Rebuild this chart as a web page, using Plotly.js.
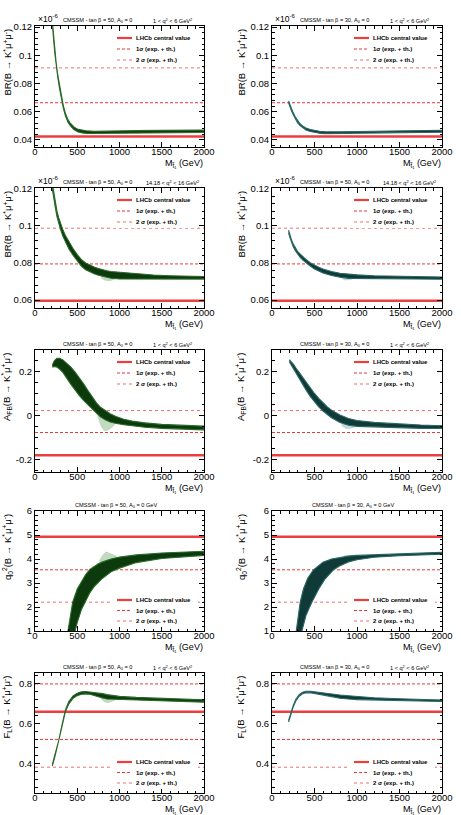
<!DOCTYPE html>
<html><head><meta charset="utf-8">
<script src="https://cdn.plot.ly/plotly-3.0.1.min.js"></script>
<style>html,body{margin:0;padding:0;background:#fff}#chart{width:461px;height:815px}</style>
</head><body><div id="chart"></div>
<script>
// ---------------- DATA ----------------
// x-axis ticks (stop mass in GeV)
const xTickVals = [0, 500, 1000, 1500, 2000];

// Row 1: BR, 1<q2<6, tanb=50
const m_brA50 = [205, 220, 235, 250, 270, 290, 310, 335, 360, 390, 420, 460, 510, 560, 620, 700, 800, 1000, 1200, 1500, 1800, 2000];
const hi_brA50 = [0.1244, 0.1129, 0.1029, 0.0949, 0.0859, 0.0784, 0.0714, 0.0644, 0.0589, 0.0544, 0.0517, 0.0492, 0.0475, 0.0468, 0.0464, 0.0462, 0.0462, 0.0464, 0.0466, 0.0468, 0.0470, 0.0471];
const lo_brA50 = [0.1226, 0.1111, 0.1011, 0.0931, 0.0841, 0.0766, 0.0696, 0.0626, 0.0571, 0.0526, 0.0499, 0.0474, 0.0457, 0.0450, 0.0446, 0.0444, 0.0444, 0.0446, 0.0448, 0.0450, 0.0452, 0.0453];
// Row 1: BR, 1<q2<6, tanb=30
const m_brA30 = [195, 210, 230, 250, 275, 300, 330, 360, 400, 450, 500, 560, 620, 700, 800, 1000, 1200, 1500, 1800, 2000];
const hi_brA30 = [0.0677, 0.0652, 0.0619, 0.0592, 0.0562, 0.0537, 0.0515, 0.0499, 0.0485, 0.0474, 0.0467, 0.0462, 0.0459, 0.0458, 0.0458, 0.0460, 0.0462, 0.0465, 0.0467, 0.0469];
const lo_brA30 = [0.0663, 0.0638, 0.0605, 0.0578, 0.0548, 0.0523, 0.0501, 0.0485, 0.0471, 0.0460, 0.0453, 0.0448, 0.0445, 0.0444, 0.0444, 0.0446, 0.0448, 0.0451, 0.0453, 0.0455];
const brA_ref = {c: 0.0424, s1: [0.0664], s2: [0.0911]};
const brA_tickVals = [0.04, 0.06, 0.08, 0.1, 0.12];
const brA_tickText = ['0.04', '0.06', '0.08', '0.1', '0.12'];

// Row 2: BR, 14.18<q2<16, tanb=50
const m_brB50 = [205, 220, 240, 260, 280, 300, 330, 360, 400, 450, 500, 550, 600, 650, 700, 750, 800, 850, 900, 1000, 1100, 1200, 1400, 1600, 1800, 2000];
const hi_brB50 = [0.1230, 0.1185, 0.1130, 0.1080, 0.1045, 0.1015, 0.0980, 0.0948, 0.0913, 0.0878, 0.0846, 0.0818, 0.0800, 0.0788, 0.0778, 0.0770, 0.0763, 0.0758, 0.0754, 0.0750, 0.0744, 0.0740, 0.0735, 0.0731, 0.0729, 0.0727];
const lo_brB50 = [0.1200, 0.1155, 0.1100, 0.1050, 0.1015, 0.0985, 0.0944, 0.0912, 0.0877, 0.0842, 0.0810, 0.0782, 0.0764, 0.0752, 0.0742, 0.0734, 0.0727, 0.0722, 0.0718, 0.0714, 0.0714, 0.0714, 0.0713, 0.0713, 0.0713, 0.0713];
const scm_brB50 = [780, 820, 860, 900, 940];
const schi_brB50 = [0.0729, 0.0724, 0.0720, 0.0717, 0.0715];
const sclo_brB50 = [0.0722, 0.0708, 0.0704, 0.0706, 0.0711];
// Row 2: BR, 14.18<q2<16, tanb=30
const m_brB30 = [195, 210, 230, 250, 275, 300, 330, 360, 400, 450, 500, 550, 600, 700, 800, 900, 1000, 1200, 1500, 1800, 2000];
const hi_brB30 = [0.0977, 0.0952, 0.0924, 0.0902, 0.0880, 0.0863, 0.0849, 0.0835, 0.0819, 0.0802, 0.0789, 0.0777, 0.0768, 0.0754, 0.0745, 0.0739, 0.0736, 0.0731, 0.0727, 0.0725, 0.0724];
const lo_brB30 = [0.0963, 0.0938, 0.0910, 0.0888, 0.0866, 0.0849, 0.0831, 0.0817, 0.0801, 0.0784, 0.0767, 0.0755, 0.0746, 0.0732, 0.0723, 0.0717, 0.0714, 0.0713, 0.0713, 0.0713, 0.0712];
const scm_brB30 = [820, 860, 900, 940];
const schi_brB30 = [0.0723, 0.0720, 0.0717, 0.0716];
const sclo_brB30 = [0.0716, 0.0708, 0.0709, 0.0712];
const brB_ref = {c: 0.0596, s1: [0.0795], s2: [0.0988]};
const brB_tickVals = [0.06, 0.08, 0.1, 0.12];
const brB_tickText = ['0.06', '0.08', '0.1', '0.12'];

// Row 3: AFB, tanb=50
const m_afb50 = [205, 230, 260, 290, 330, 375, 425, 475, 525, 575, 625, 675, 725, 775, 830, 890, 950, 1050, 1150, 1300, 1500, 1750, 2000];
const hi_afb50 = [0.232, 0.252, 0.262, 0.262, 0.255, 0.240, 0.222, 0.199, 0.174, 0.146, 0.116, 0.085, 0.060, 0.039, 0.024, 0.010, -0.002, -0.016, -0.024, -0.032, -0.039, -0.044, -0.047];
const lo_afb50 = [0.222, 0.225, 0.222, 0.213, 0.198, 0.172, 0.143, 0.116, 0.092, 0.070, 0.050, 0.031, 0.013, -0.005, -0.018, -0.028, -0.034, -0.041, -0.046, -0.052, -0.057, -0.061, -0.064];
const scm_afb50 = [740, 780, 820, 860, 900, 940];
const schi_afb50 = [0.010, -0.007, -0.016, -0.024, -0.029, -0.033];
const sclo_afb50 = [0.000, -0.045, -0.068, -0.066, -0.055, -0.042];
// Row 3: AFB, tanb=30
const m_afb30 = [205, 250, 300, 350, 400, 450, 500, 550, 600, 650, 700, 800, 900, 1000, 1200, 1500, 1750, 2000];
const hi_afb30 = [0.256, 0.236, 0.208, 0.180, 0.152, 0.126, 0.102, 0.080, 0.060, 0.041, 0.026, 0.004, -0.012, -0.021, -0.030, -0.038, -0.042, -0.045];
const lo_afb30 = [0.246, 0.218, 0.183, 0.150, 0.118, 0.088, 0.062, 0.041, 0.022, 0.005, -0.009, -0.030, -0.043, -0.048, -0.052, -0.055, -0.057, -0.058];
const scm_afb30 = [820, 870, 920, 970];
const schi_afb30 = [-0.034, -0.039, -0.044, -0.046];
const sclo_afb30 = [-0.045, -0.058, -0.058, -0.052];
const afb_ref = {c: -0.18, s1: [-0.076], s2: [0.024]};
const afb_tickVals = [-0.2, 0, 0.2];
const afb_tickText = ['-0.2', '0', '0.2'];

// Row 4: q0^2, tanb=50 (upper-left edge and lower-right edge of the band)
const mu_q50 = [390, 420, 446, 500, 550, 600, 650, 700, 750, 800, 900, 1000, 1200, 1500, 1750, 2000];
const up_q50 = [1.0, 1.75, 2.2, 2.75, 3.05, 3.35, 3.57, 3.70, 3.80, 3.88, 4.00, 4.08, 4.17, 4.25, 4.29, 4.32];
const ml_q50 = [475, 500, 550, 600, 650, 700, 800, 900, 1000, 1200, 1500, 1750, 2000];
const dn_q50 = [1.0, 1.35, 1.9, 2.25, 2.6, 2.85, 3.2, 3.47, 3.62, 3.85, 4.02, 4.10, 4.15];
const scm_q50 = [760, 800, 840, 880, 920, 960];
const schi_q50 = [3.92, 4.15, 4.30, 4.25, 4.18, 4.12];
const sclo_q50 = [3.84, 3.88, 3.93, 3.97, 4.01, 4.05];
// Row 4: q0^2, tanb=30
const mu_q30 = [285, 300, 332, 370, 420, 488, 550, 600, 700, 800, 900, 1000, 1250, 1500, 1750, 2000];
const up_q30 = [1.0, 1.45, 2.2, 2.75, 3.2, 3.55, 3.75, 3.87, 4.00, 4.07, 4.12, 4.15, 4.19, 4.22, 4.25, 4.28];
const ml_q30 = [352, 400, 469, 550, 620, 723, 800, 900, 1000, 1200, 1500, 1750, 2000];
const dn_q30 = [1.0, 1.65, 2.2, 2.75, 3.15, 3.55, 3.72, 3.88, 3.97, 4.07, 4.14, 4.18, 4.20];
const scm_q30 = [850, 900, 950, 1000];
const schi_q30 = [4.14, 4.17, 4.17, 4.17];
const sclo_q30 = [4.10, 4.12, 4.14, 4.15];
const q_ref = {c: 4.93, s1: [3.55], s2: [2.2]};
const q_tickVals = [1, 2, 3, 4, 5, 6];
const q_tickText = ['1', '2', '3', '4', '5', '6'];

// Row 5: FL, tanb=50
const m_fl50 = [205, 240, 280, 320, 360, 400, 450, 500, 550, 600, 650, 700, 750, 800, 850, 900, 1000, 1200, 1500, 1750, 2000];
const hi_fl50 = [0.394, 0.449, 0.514, 0.594, 0.669, 0.711, 0.739, 0.753, 0.760, 0.762, 0.760, 0.757, 0.754, 0.751, 0.746, 0.742, 0.737, 0.732, 0.727, 0.723, 0.720];
const lo_fl50 = [0.386, 0.441, 0.506, 0.586, 0.661, 0.699, 0.727, 0.741, 0.748, 0.750, 0.748, 0.743, 0.736, 0.729, 0.724, 0.722, 0.719, 0.716, 0.713, 0.711, 0.708];
const scm_fl50 = [780, 820, 860, 900, 940];
const schi_fl50 = [0.733, 0.728, 0.724, 0.722, 0.721];
const sclo_fl50 = [0.725, 0.710, 0.705, 0.709, 0.716];
// Row 5: FL, tanb=30
const m_fl30 = [195, 220, 250, 280, 320, 360, 400, 450, 500, 600, 700, 800, 900, 1000, 1200, 1500, 1750, 2000];
const hi_fl30 = [0.616, 0.652, 0.692, 0.722, 0.746, 0.758, 0.763, 0.763, 0.760, 0.754, 0.748, 0.744, 0.740, 0.737, 0.730, 0.725, 0.721, 0.719];
const lo_fl30 = [0.608, 0.644, 0.684, 0.714, 0.738, 0.750, 0.755, 0.755, 0.752, 0.744, 0.736, 0.728, 0.724, 0.721, 0.718, 0.715, 0.713, 0.711];
const fl_ref = {c: 0.66, s1: [0.52, 0.80], s2: [0.38]};
const fl_tickVals = [0.4, 0.6, 0.8];
const fl_tickText = ['0.4', '0.6', '0.8'];

// Texts
const T_BR = 'BR(B → K<sup>*</sup>μ<sup>+</sup>μ<sup>-</sup>)';
const T_AFB = 'A<sub>FB</sub>(B → K<sup>*</sup>μ<sup>+</sup>μ<sup>-</sup>)';
const T_Q0 = 'q<sub>0</sub><sup>2</sup>(B → K<sup>*</sup>μ<sup>+</sup>μ<sup>-</sup>)';
const T_FL = 'F<sub>L</sub>(B → K<sup>*</sup>μ<sup>+</sup>μ<sup>-</sup>)';
const T_X = 'M<sub>t̃₁</sub> (GeV)';
const Q_LOW = '1 < q<sup>2</sup> < 6 GeV<sup>2</sup>';
const Q_HIGH = '14.18 < q<sup>2</sup> < 16 GeV<sup>2</sup>';
const legTexts = ['LHCb central value', '1σ (exp. + th.)', '2 σ (exp. + th.)'];

// ---------------- LAYOUT / DRAW ----------------
const W = 461, H = 815;
const FONT = 'Liberation Sans, Arial, Helvetica, sans-serif';
const cols = [[35, 204], [272, 442]];
const rows = [[26, 147], [188, 308], [350, 472], [511, 631], [673, 793]];
const yRanges = [[0.035, 0.1208], [0.0557, 0.1205], [-0.256, 0.3], [1, 6], [0.25, 0.855]];
const yMinor = [0.004, 0.004, 0.05, 0.2, 0.04];
const bandCol = [{fill: '#0c3a0c', line: '#2a6a2a', sc: 'rgba(80,150,80,0.35)'},
                 {fill: '#0f3a37', line: '#2b6864', sc: 'rgba(80,150,145,0.35)'}];

const panels = [
  {upM: m_brA50, upV: hi_brA50, loM: m_brA50, loV: lo_brA50, sc: null, ref: brA_ref, tv: brA_tickVals, tt: brA_tickText, yt: T_BR, tb: '50', q: Q_LOW, exp: true, leg: 'top'},
  {upM: m_brA30, upV: hi_brA30, loM: m_brA30, loV: lo_brA30, sc: null, ref: brA_ref, tv: brA_tickVals, tt: brA_tickText, yt: T_BR, tb: '30', q: Q_LOW, exp: true, leg: 'top'},
  {upM: m_brB50, upV: hi_brB50, loM: m_brB50, loV: lo_brB50, sc: [scm_brB50, schi_brB50, sclo_brB50], ref: brB_ref, tv: brB_tickVals, tt: brB_tickText, yt: T_BR, tb: '50', q: Q_HIGH, exp: true, leg: 'top'},
  {upM: m_brB30, upV: hi_brB30, loM: m_brB30, loV: lo_brB30, sc: [scm_brB30, schi_brB30, sclo_brB30], ref: brB_ref, tv: brB_tickVals, tt: brB_tickText, yt: T_BR, tb: '50', q: Q_HIGH, exp: true, leg: 'top'},
  {upM: m_afb50, upV: hi_afb50, loM: m_afb50, loV: lo_afb50, sc: [scm_afb50, schi_afb50, sclo_afb50], ref: afb_ref, tv: afb_tickVals, tt: afb_tickText, yt: T_AFB, tb: '50', q: Q_LOW, exp: false, leg: 'top'},
  {upM: m_afb30, upV: hi_afb30, loM: m_afb30, loV: lo_afb30, sc: [scm_afb30, schi_afb30, sclo_afb30], ref: afb_ref, tv: afb_tickVals, tt: afb_tickText, yt: T_AFB, tb: '30', q: Q_LOW, exp: false, leg: 'top'},
  {upM: mu_q50, upV: up_q50, loM: ml_q50, loV: dn_q50, sc: [scm_q50, schi_q50, sclo_q50], ref: q_ref, tv: q_tickVals, tt: q_tickText, yt: T_Q0, tb: '50', q: null, exp: false, leg: 'bottom'},
  {upM: mu_q30, upV: up_q30, loM: ml_q30, loV: dn_q30, sc: [scm_q30, schi_q30, sclo_q30], ref: q_ref, tv: q_tickVals, tt: q_tickText, yt: T_Q0, tb: '30', q: null, exp: false, leg: 'bottom'},
  {upM: m_fl50, upV: hi_fl50, loM: m_fl50, loV: lo_fl50, sc: [scm_fl50, schi_fl50, sclo_fl50], ref: fl_ref, tv: fl_tickVals, tt: fl_tickText, yt: T_FL, tb: '50', q: Q_LOW, exp: false, leg: 'bottom'},
  {upM: m_fl30, upV: hi_fl30, loM: m_fl30, loV: lo_fl30, sc: null, ref: fl_ref, tv: fl_tickVals, tt: fl_tickText, yt: T_FL, tb: '30', q: Q_LOW, exp: false, leg: 'bottom'}
];

const RED = '#ea3f41', RED1 = '#e4393b', RED2 = '#ef6f73';
const px = v => v / W, py = v => 1 - v / H;
const traces = [], shapes = [], annotations = [];
const layout = {width: W, height: H, margin: {l: 0, r: 0, t: 0, b: 0}, paper_bgcolor: '#fff', plot_bgcolor: '#fff',
  showlegend: false, font: {family: FONT, color: '#000'}};

function hline(vals, xa, ya, color, width, dash) {
  vals.forEach(v => {
    traces.push({type: 'scatter', mode: 'lines', x: [0, 2000], y: [v, v], xaxis: xa, yaxis: ya, hoverinfo: 'skip',
      line: {color: color, width: width, dash: dash}});
  });
}

panels.forEach((p, i) => {
  const r = Math.floor(i / 2), c = i % 2, n = i + 1;
  const [L, R] = cols[c], [T, B] = rows[r];
  const xa = 'x' + n, ya = 'y' + n;
  const common = {showline: true, linecolor: '#000', linewidth: 1, mirror: 'ticks', ticks: 'inside', ticklen: 5,
    tickwidth: 1, tickcolor: '#000', showgrid: false, zeroline: false, fixedrange: true,
    tickfont: {family: FONT, size: 9.5, color: '#000'}};
  layout['xaxis' + n] = Object.assign({}, common, {domain: [px(L), px(R)], range: [0, 2000], anchor: ya,
    tickvals: xTickVals, ticktext: xTickVals.map(String), ticklabelstandoff: -4,
    minor: {ticks: 'inside', ticklen: 2.5, dtick: 100, tick0: 0, tickcolor: '#000', tickwidth: 1, showgrid: false}});
  layout['yaxis' + n] = Object.assign({}, common, {domain: [py(B), py(T)], range: yRanges[r], anchor: xa,
    tickvals: p.tv, ticktext: p.tt,
    minor: {ticks: 'inside', ticklen: 2.5, dtick: yMinor[r], tick0: 0, tickcolor: '#000', tickwidth: 1, showgrid: false}});

  // reference lines
  hline(p.ref.s2, xa, ya, RED2, 1, 'dot');
  hline(p.ref.s1, xa, ya, RED1, 1, '3px,2px');
  hline([p.ref.c], xa, ya, RED, 2.4, 'solid');

  // band
  const col = bandCol[c];
  if (p.sc) {
    traces.push({type: 'scatter', mode: 'lines', xaxis: xa, yaxis: ya, hoverinfo: 'skip',
      x: p.sc[0].concat(p.sc[0].slice().reverse()), y: p.sc[1].concat(p.sc[2].slice().reverse()),
      fill: 'toself', fillcolor: col.sc, line: {color: col.sc, width: 0.5}});
  }
  traces.push({type: 'scatter', mode: 'lines', xaxis: xa, yaxis: ya, hoverinfo: 'skip',
    x: p.upM.concat(p.loM.slice().reverse()), y: p.upV.concat(p.loV.slice().reverse()),
    fill: 'toself', fillcolor: col.fill, line: {color: col.line, width: 1.1}});

  // texts
  annotations.push({xref: 'paper', yref: 'paper', x: px(c ? 241 : 7), y: py(T + 1), xanchor: 'center', yanchor: 'top',
    textangle: -90, text: p.yt, showarrow: false, font: {family: FONT, size: 9.5}});
  annotations.push({xref: 'paper', yref: 'paper', x: px(R + 1), y: py(B + 16.5), xanchor: 'right', yanchor: 'middle',
    text: T_X, showarrow: false, font: {family: FONT, size: 9}});
  const head = 'CMSSM - tan β = ' + p.tb + ', A<sub>0</sub> = 0' + (p.q ? '' : ' GeV');
  annotations.push({xref: 'paper', yref: 'paper', x: px(L + (p.q ? 62 : 81)), y: py(T - 5.5), xanchor: 'center', yanchor: 'middle',
    text: head, showarrow: false, font: {family: FONT, size: 5.6}});
  if (p.q) annotations.push({xref: 'paper', yref: 'paper', x: px(L + 137), y: py(T - 5.5), xanchor: 'center', yanchor: 'middle',
    text: p.q, showarrow: false, font: {family: FONT, size: 5.6}});
  if (p.exp) annotations.push({xref: 'paper', yref: 'paper', x: px(L + 1), y: py(T - 0.5), xanchor: 'left', yanchor: 'bottom',
    text: '×10<sup>-6</sup>', showarrow: false, font: {family: FONT, size: 8.5}});

  // legend box
  const iy = p.leg === 'top' ? [T + 12, T + 23, T + 34] : [B - 31, B - 20.5, B - 10];
  shapes.push({type: 'rect', xref: 'paper', yref: 'paper', x0: px(L + 78), x1: px(L + 163), y0: py(iy[0] - 6), y1: py(iy[2] + 6),
    fillcolor: '#fff', line: {width: 0}, layer: 'above'});
  const st = [{color: RED, width: 2.2, dash: 'solid'}, {color: RED1, width: 1, dash: '3px,2px'}, {color: RED2, width: 1, dash: 'dot'}];
  iy.forEach((yy, k) => {
    shapes.push({type: 'line', xref: 'paper', yref: 'paper', x0: px(L + 82), x1: px(L + 97), y0: py(yy), y1: py(yy),
      line: st[k], layer: 'above'});
    annotations.push({xref: 'paper', yref: 'paper', x: px(L + 99), y: py(yy), xanchor: 'left', yanchor: 'middle',
      text: '<b>' + legTexts[k] + '</b>', showarrow: false, font: {family: FONT, size: 6}});
  });
});

layout.shapes = shapes;
layout.annotations = annotations;
Plotly.newPlot('chart', traces, layout, {displayModeBar: false, staticPlot: true});
</script></body></html>
